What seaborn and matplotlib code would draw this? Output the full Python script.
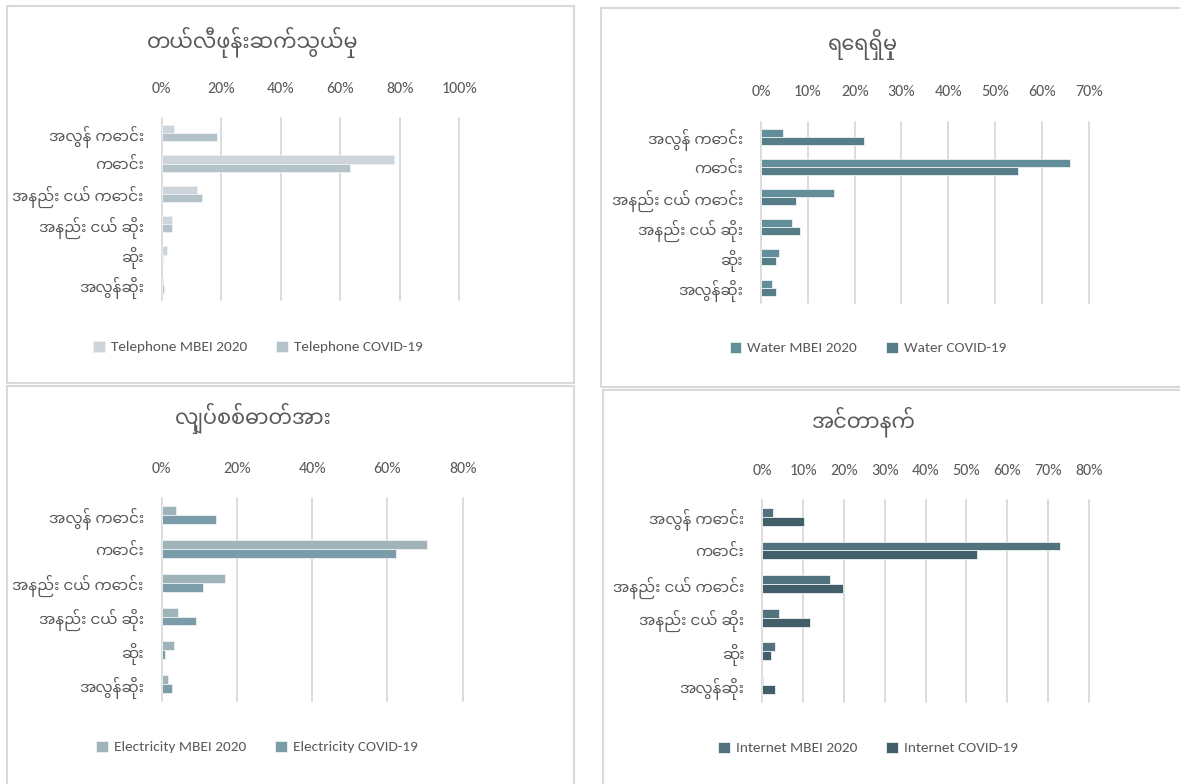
import matplotlib
matplotlib.use("Agg")
import matplotlib.pyplot as plt
from matplotlib.patches import Rectangle
from matplotlib.ticker import FuncFormatter
import seaborn as sns
import pandas as pd

# ---------------- data ----------------
categories = ["အလွန် ကောင်း", "ကောင်း", "အနည်း ငယ် ကောင်း",
              "အနည်း ငယ် ဆိုး", "ဆိုး", "အလွန်ဆိုး"]

tel_title = "တယ်လီဖုန်းဆက်သွယ်မှု"
tel_series = ["Telephone MBEI 2020", "Telephone COVID-19"]
tel_mbei = [4.1, 78.0, 12.0, 3.5, 1.9, 0.5]
tel_covid = [18.7, 63.2, 13.4, 3.5, 0.5, 0.9]
tel_ticks = [0, 20, 40, 60, 80, 100]

wat_title = "ရေရရှိမှု"
wat_series = ["Water MBEI 2020", "Water COVID-19"]
wat_mbei = [4.6, 66.1, 15.7, 6.7, 3.9, 2.4]
wat_covid = [22.0, 55.0, 7.5, 8.3, 3.3, 3.3]
wat_ticks = [0, 10, 20, 30, 40, 50, 60, 70]

ele_title = "လျှပ်စစ်ဓာတ်အား"
ele_series = ["Electricity MBEI 2020", "Electricity COVID-19"]
ele_mbei = [3.9, 70.5, 16.7, 4.3, 3.2, 1.8]
ele_covid = [14.3, 62.4, 11.0, 9.0, 0.8, 2.7]
ele_ticks = [0, 20, 40, 60, 80]

int_title = "အင်တာနက်"
int_series = ["Internet MBEI 2020", "Internet COVID-19"]
int_mbei = [2.5, 73.0, 16.6, 4.0, 3.1, 0.2]
int_covid = [10.3, 52.7, 19.9, 11.6, 2.1, 3.1]
int_ticks = [0, 10, 20, 30, 40, 50, 60, 70, 80]

# ---------------- style ----------------
sns.set_theme(style="white")
FAMILY = ["Carlito", "Noto Sans Myanmar", "DejaVu Sans"]
MYFAMILY = ["Noto Sans Myanmar", "DejaVu Sans"]
plt.rcParams["font.family"] = FAMILY
TXT = "#595959"
GRID = "#d9d9d9"

W, H = 1180, 784
fig = plt.figure(figsize=(W / 100, H / 100), dpi=100)
fig.patch.set_facecolor("white")


def fx(px):
    return px / W


def fy(py):
    return 1 - py / H


panels = [
    dict(title=tel_title, series=tel_series, a=tel_mbei, b=tel_covid, ticks=tel_ticks,
         colors=["#cdd5db", "#b4c2c9"],
         axbox=(161.7, 459.3, 118, 300), border=(7, 574, 6, 383),
         title_xy=(253, 43), leg_xy=(258, 347)),
    dict(title=wat_title, series=wat_series, a=wat_mbei, b=wat_covid, ticks=wat_ticks,
         colors=["#628e99", "#577d88"],
         axbox=(761, 1088.7, 121.7, 302.7), border=(601, 1182, 8, 387),
         title_xy=(863, 45), leg_xy=(868, 348)),
    dict(title=ele_title, series=ele_series, a=ele_mbei, b=ele_covid, ticks=ele_ticks,
         colors=["#9fb3b9", "#7b9da9"],
         axbox=(161.7, 462.7, 498.3, 701), border=(7, 574, 386, 786),
         title_xy=(253, 418), leg_xy=(257, 747)),
    dict(title=int_title, series=int_series, a=int_mbei, b=int_covid, ticks=int_ticks,
         colors=["#52727d", "#415e69"],
         axbox=(762.3, 1088.7, 500, 701.7), border=(603, 1182, 390, 786),
         title_xy=(863, 422), leg_xy=(868, 748)),
]

for p in panels:
    bx0, bx1, by0, by1 = p["border"]
    fig.patches.append(Rectangle((fx(bx0), fy(by1)), fx(bx1 - bx0), (by1 - by0) / H,
                                 transform=fig.transFigure, fill=False,
                                 edgecolor=GRID, linewidth=1.5, zorder=0))

    l, r, t, b = p["axbox"]
    ax = fig.add_axes([fx(l), fy(b), fx(r - l), (b - t) / H])
    df = pd.DataFrame({
        "cat": categories * 2,
        "series": [p["series"][0]] * len(categories) + [p["series"][1]] * len(categories),
        "val": list(p["a"]) + list(p["b"]),
    })
    sns.barplot(data=df, y="cat", x="val", hue="series", order=categories,
                hue_order=p["series"], palette=p["colors"], orient="h",
                width=0.53, saturation=1, ax=ax, edgecolor="#eef1f3", linewidth=0.6,
                legend=True, zorder=3)
    handles, labels = ax.get_legend_handles_labels()
    if ax.get_legend() is not None:
        ax.get_legend().remove()

    ax.set_xlim(0, p["ticks"][-1])
    ax.set_xticks(p["ticks"])
    ax.xaxis.set_major_formatter(FuncFormatter(lambda v, pos: f"{v:.0f}%"))
    ax.xaxis.tick_top()
    ax.tick_params(axis="x", length=0, pad=16, labelsize=11.5, labelcolor=TXT)
    ax.tick_params(axis="y", length=0, pad=13, labelsize=11, labelcolor=TXT)
    for lab in ax.get_yticklabels():
        lab.set_family(MYFAMILY)
    ax.set_xlabel("")
    ax.set_ylabel("")
    for s in ax.spines.values():
        s.set_visible(False)
    ax.grid(axis="x", color=GRID, linewidth=1.3, zorder=0)
    ax.grid(axis="y", visible=False)
    ax.set_axisbelow(True)
    for gl in ax.get_xgridlines():
        gl.set_clip_on(False)
    ax.patch.set_alpha(0)

    fig.text(fx(p["title_xy"][0]), fy(p["title_xy"][1]), p["title"],
             ha="center", va="center", fontsize=15, color=TXT, family=MYFAMILY)

    fig.legend(handles, labels, loc="center",
               bbox_to_anchor=(fx(p["leg_xy"][0]), fy(p["leg_xy"][1])),
               ncol=2, frameon=False, fontsize=11, labelcolor=TXT,
               handlelength=0.75, handleheight=0.75, handletextpad=0.4,
               columnspacing=1.9)

fig.savefig("out.png", dpi=100)
